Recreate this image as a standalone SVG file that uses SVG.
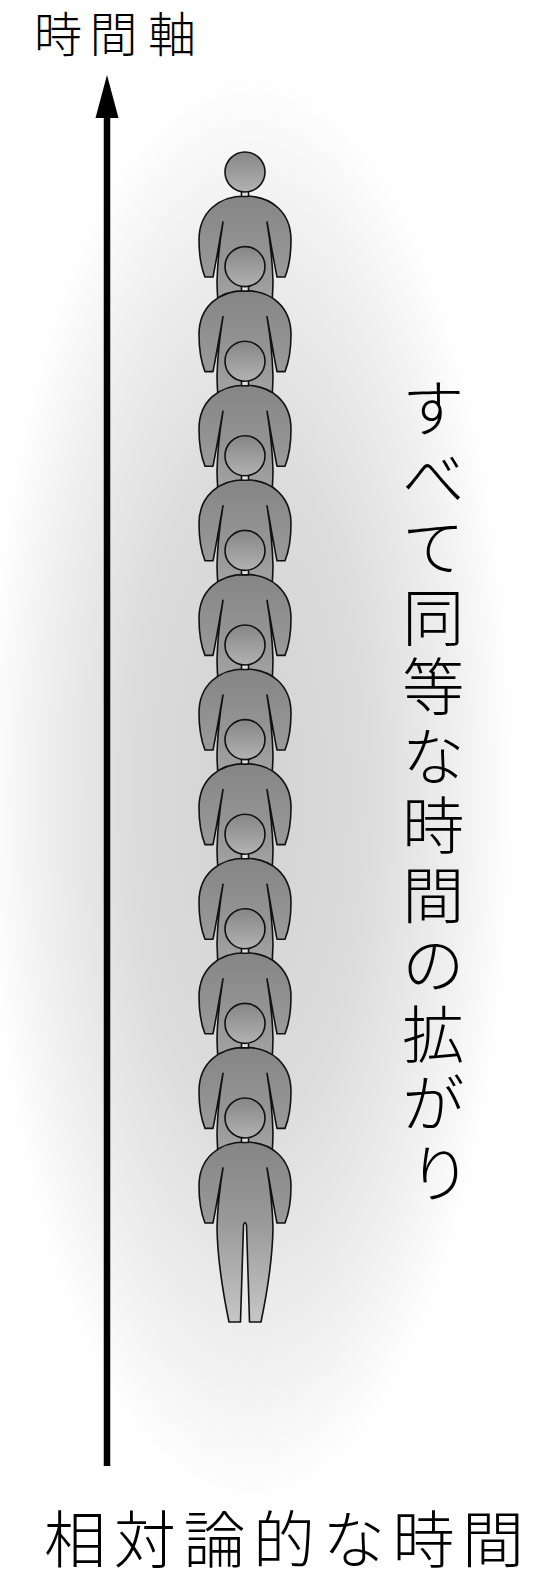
<svg xmlns="http://www.w3.org/2000/svg" xmlns:xlink="http://www.w3.org/1999/xlink" width="536" height="1569" viewBox="0 0 536 1569">
  <style>
    .label { font-family: "Noto Sans CJK JP", "Noto Sans", sans-serif; font-weight: 300; fill: #000; }
    .outline { stroke: #111; stroke-width: 1.6; stroke-linejoin: round; }
  </style>
  <defs>
    <!-- soft grey glow behind the column of figures -->
    <radialGradient id="glow" cx="250" cy="790" r="1" gradientUnits="userSpaceOnUse" gradientTransform="translate(250 790) scale(265 720) translate(-250 -790)">
      <stop offset="0" stop-color="#d2d2d2"/>
      <stop offset="0.45" stop-color="#dcdcdc"/>
      <stop offset="0.78" stop-color="#efefef"/>
      <stop offset="1" stop-color="#ffffff"/>
    </radialGradient>
    <linearGradient id="bodyFill" x1="0" y1="0" x2="0" y2="1">
      <stop offset="0" stop-color="#858585"/>
      <stop offset="0.45" stop-color="#9a9a9a"/>
      <stop offset="1" stop-color="#c6c6c6"/>
    </linearGradient>
    <linearGradient id="headFill" x1="0" y1="0" x2="0" y2="1">
      <stop offset="0" stop-color="#868686"/>
      <stop offset="1" stop-color="#b2b2b2"/>
    </linearGradient>
    <!-- one standing person, origin at the centre of the head -->
    <g id="person">
      <path class="outline" fill="url(#bodyFill)" d="M -40,105 C -44,95 -46,82 -46,68 C -46,40 -26,24 0,24 C 26,24 46,40 46,68 C 46,82 44,95 40,105 L 32,105 C 28,85 25,66 22,50 C 25,68 27.5,88 28,110 C 27.5,140 22,175 16,204 L 4.5,204 C 3.5,170 2,125 1.5,107 Q 0,102 -1.5,107 C -2,125 -3.5,170 -4.5,204 L -16,204 C -22,175 -27.5,140 -28,110 C -27.5,88 -25,68 -22,50 C -25,66 -28,85 -32,105 Z"/>
      <rect class="outline" x="-3.5" y="19" width="7" height="5.5" fill="#e2e2e2"/>
      <circle class="outline" cx="0" cy="0" r="20" fill="url(#headFill)"/>
    </g>
  </defs>

  <rect width="536" height="1569" fill="#fff"/>
  <ellipse cx="250" cy="790" rx="265" ry="720" fill="url(#glow)"/>

  <!-- time axis -->
  <g id="connectors">
    <line x1="107" y1="1466" x2="107" y2="114" stroke="#000" stroke-width="6.5"/>
    <polygon points="107,75 95.5,118 118.5,118" fill="#000"/>
  </g>

  <!-- the column of people, each drawn over the one above -->
  <g id="people">
    <g id="person-1" transform="translate(245,172)"><use xlink:href="#person"/></g>
    <g id="person-2" transform="translate(245,266.6)"><use xlink:href="#person"/></g>
    <g id="person-3" transform="translate(245,361.2)"><use xlink:href="#person"/></g>
    <g id="person-4" transform="translate(245,455.8)"><use xlink:href="#person"/></g>
    <g id="person-5" transform="translate(245,550.4)"><use xlink:href="#person"/></g>
    <g id="person-6" transform="translate(245,645)"><use xlink:href="#person"/></g>
    <g id="person-7" transform="translate(245,739.6)"><use xlink:href="#person"/></g>
    <g id="person-8" transform="translate(245,834.2)"><use xlink:href="#person"/></g>
    <g id="person-9" transform="translate(245,928.8)"><use xlink:href="#person"/></g>
    <g id="person-10" transform="translate(245,1023.4)"><use xlink:href="#person"/></g>
    <g id="person-11" transform="translate(245,1118)"><use xlink:href="#person"/></g>
  </g>

  <!-- labels -->
  <g id="axis-label">
    <text class="label" font-size="48" text-anchor="middle" x="58 113.5 172" y="51.5">時間軸</text>
  </g>
  <g id="caption">
    <text class="label" font-size="62" text-anchor="middle" x="75 144.7 214.4 284 353.8 423.5 493" y="1563">相対論的な時間</text>
  </g>
  <!-- vertical caption, one glyph per line -->
  <g id="side-note">
    <text class="label" font-size="62" text-anchor="middle">
      <tspan x="440" y="432">す</tspan>
      <tspan x="440" y="501.5">べ</tspan>
      <tspan x="440" y="571">て</tspan>
      <tspan x="440" y="640.5">同</tspan>
      <tspan x="440" y="710">等</tspan>
      <tspan x="440" y="779.5">な</tspan>
      <tspan x="440" y="849">時</tspan>
      <tspan x="440" y="918.5">間</tspan>
      <tspan x="440" y="988">の</tspan>
      <tspan x="440" y="1057.5">拡</tspan>
      <tspan x="440" y="1127">が</tspan>
      <tspan x="440" y="1196.5">り</tspan>
    </text>
  </g>
</svg>
